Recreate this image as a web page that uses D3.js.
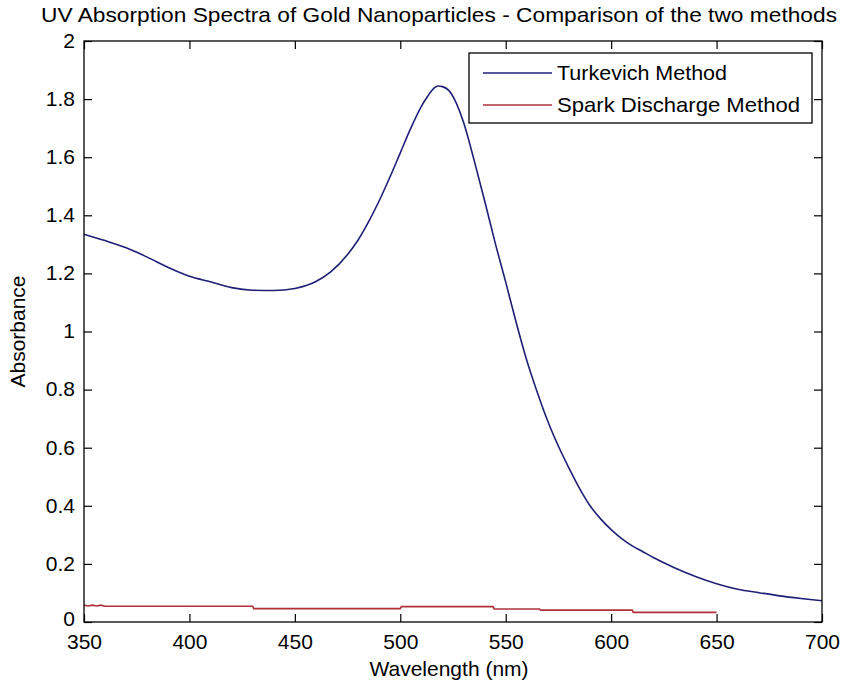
<!DOCTYPE html>
<html>
<head>
<meta charset="utf-8">
<script src="https://cdn.jsdelivr.net/npm/d3@7"></script>
<style>
  html, body { margin: 0; padding: 0; background: #fff; }
  svg { display: block; font-family: "Liberation Sans", Arial, sans-serif; }
</style>
</head>
<body>
<svg id="chart" width="842" height="686"></svg>
<script>
// ---- data ----
const turkWavelength = [350, 360, 370, 380, 390, 400, 410, 420, 430, 440, 450, 460, 467, 475, 480, 485, 490, 495, 500, 505, 510, 513, 516, 518, 520, 523, 526, 530, 535, 540, 545, 550, 555, 560, 565, 570, 575, 580, 585, 590, 595, 600, 605, 610, 615, 620, 630, 640, 650, 660, 670, 680, 690, 700];
const turkAbsorbance = [1.335, 1.313, 1.288, 1.256, 1.22, 1.19, 1.171, 1.151, 1.142, 1.141, 1.148, 1.172, 1.205, 1.265, 1.315, 1.378, 1.45, 1.53, 1.615, 1.70, 1.775, 1.81, 1.838, 1.845, 1.843, 1.83, 1.795, 1.72, 1.59, 1.45, 1.305, 1.17, 1.03, 0.90, 0.79, 0.69, 0.605, 0.53, 0.46, 0.40, 0.355, 0.318, 0.287, 0.262, 0.242, 0.222, 0.187, 0.157, 0.132, 0.113, 0.101, 0.09, 0.081, 0.073];

const sparkWavelength = [350, 352, 354, 356, 358, 360, 430, 430.5, 500, 500.5, 544, 544.5, 566, 566.5, 610, 610.5, 650];
const sparkAbsorbance = [0.058, 0.055, 0.058, 0.055, 0.058, 0.054, 0.054, 0.046, 0.046, 0.053, 0.053, 0.045, 0.045, 0.041, 0.041, 0.033, 0.033];

const xTicks = [350, 400, 450, 500, 550, 600, 650, 700];
const yTicks = [0, 0.2, 0.4, 0.6, 0.8, 1, 1.2, 1.4, 1.6, 1.8, 2];
const seriesNames = ["Turkevich Method", "Spark Discharge Method"];
const seriesColors = ["#1f1f78", "#b0303c"];
const titleText = "UV Absorption Spectra of Gold Nanoparticles - Comparison of the two methods";
const xLabel = "Wavelength (nm)";
const yLabel = "Absorbance";

// ---- layout ----
const svg = d3.select("#chart");
const pL = 84, pR = 822, pT = 41, pB = 622;
const x = d3.scaleLinear().domain([350, 700]).range([pL, pR]);
const y = d3.scaleLinear().domain([0, 2]).range([pB, pT]);
const fontSize = 21;
const tickLen = 8;

svg.append("rect").attr("x", pL).attr("y", pT)
  .attr("width", pR - pL).attr("height", pB - pT)
  .attr("fill", "#fff");

// series
const turk = turkWavelength.map((w, i) => [w, turkAbsorbance[i]]);
const spark = sparkWavelength.map((w, i) => [w, sparkAbsorbance[i]]);
const lineSmooth = d3.line().x(d => x(d[0])).y(d => y(d[1])).curve(d3.curveMonotoneX);
const lineStep = d3.line().x(d => x(d[0])).y(d => y(d[1]));

svg.append("path").datum(turk).attr("d", lineSmooth)
  .attr("fill", "none").attr("stroke", seriesColors[0]).attr("stroke-width", 1.6);
svg.append("path").datum(spark).attr("d", lineStep)
  .attr("fill", "none").attr("stroke", seriesColors[1]).attr("stroke-width", 1.6);

// axes (ticks inward, mirrored on top/right)
function styleAxis(g) {
  g.select(".domain").remove();
  g.selectAll(".tick line").attr("stroke", "#000").attr("stroke-width", 1.2);
  g.selectAll(".tick text").attr("fill", "#000").style("font-size", fontSize + "px")
    .style("font-family", '"Liberation Sans", Arial, sans-serif');
}
const fmt = d => String(+d.toFixed(1));

const xBottom = svg.append("g").attr("transform", `translate(0,${pB})`)
  .call(d3.axisBottom(x).tickValues(xTicks).tickSizeInner(-tickLen).tickSizeOuter(0).tickFormat(d3.format("d")));
styleAxis(xBottom);
xBottom.selectAll(".tick text").attr("y", 12).attr("dy", "0.71em");

const xTop = svg.append("g").attr("transform", `translate(0,${pT})`)
  .call(d3.axisTop(x).tickValues(xTicks).tickSizeInner(-tickLen).tickSizeOuter(0).tickFormat(""));
styleAxis(xTop);

const yLeft = svg.append("g").attr("transform", `translate(${pL},0)`)
  .call(d3.axisLeft(y).tickValues(yTicks).tickSizeInner(-tickLen).tickSizeOuter(0).tickFormat(fmt));
styleAxis(yLeft);
yLeft.selectAll(".tick text").attr("x", -9).attr("dy", d => d === 0 ? "0.15em" : "0.3em");

const yRight = svg.append("g").attr("transform", `translate(${pR},0)`)
  .call(d3.axisRight(y).tickValues(yTicks).tickSizeInner(-tickLen).tickSizeOuter(0).tickFormat(""));
styleAxis(yRight);

// box
svg.append("rect").attr("x", pL).attr("y", pT)
  .attr("width", pR - pL).attr("height", pB - pT)
  .attr("fill", "none").attr("stroke", "#000").attr("stroke-width", 1.3);

// title and labels
svg.append("text").attr("x", 439).attr("y", 22).attr("text-anchor", "middle")
  .attr("textLength", 796).attr("lengthAdjust", "spacingAndGlyphs")
  .style("font-size", fontSize + "px").text(titleText);
svg.append("text").attr("x", 449).attr("y", 676).attr("text-anchor", "middle")
  .style("font-size", fontSize + "px").text(xLabel);
svg.append("text").attr("transform", `translate(25,${(pT + pB) / 2}) rotate(-90)`)
  .attr("text-anchor", "middle").style("font-size", fontSize + "px").text(yLabel);

// legend
const legendTextLen = [170, 243];
const lg = svg.append("g");
lg.append("rect").attr("x", 469).attr("y", 53).attr("width", 343).attr("height", 70)
  .attr("fill", "#fff").attr("stroke", "#000").attr("stroke-width", 1.3);
seriesNames.forEach((name, i) => {
  const cy = 73 + i * 32;
  lg.append("line").attr("x1", 483).attr("x2", 552).attr("y1", cy).attr("y2", cy)
    .attr("stroke", seriesColors[i]).attr("stroke-width", 1.6);
  lg.append("text").attr("x", 557).attr("y", cy).attr("dy", "0.35em")
    .attr("textLength", legendTextLen[i]).attr("lengthAdjust", "spacingAndGlyphs")
    .style("font-size", fontSize + "px").text(name);
});
</script>
</body>
</html>
